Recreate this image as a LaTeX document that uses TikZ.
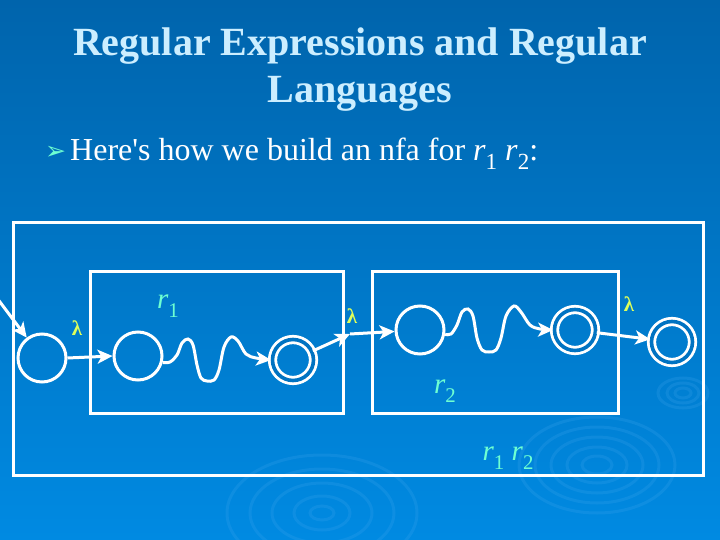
\documentclass[tikz,border=0pt]{standalone}
\usepackage{fontspec}
\setmainfont{Liberation Serif}
\newfontfamily\dingfont{DejaVu Sans}
\usepackage{graphicx}
\usetikzlibrary{positioning,shapes,arrows.meta,calc}
\definecolor{slidetop}{RGB}{0,100,172}
\definecolor{slidebot}{RGB}{0,138,226}
\definecolor{titleblue}{RGB}{204,238,255}
\definecolor{aqua}{RGB}{110,255,210}
\definecolor{lamyellow}{RGB}{222,255,90}
\definecolor{ripple}{RGB}{70,170,240}
\newcommand{\rsym}[2]{\textit{r}\raisebox{-#2}{\scalebox{0.72}{#1}}}
\tikzstyle{state} = [circle, draw=white, line width=3pt, minimum size=48pt, inner sep=0pt]
\tikzstyle{accept} = [circle, draw=white, line width=2.8pt, double=slidetop!60!slidebot, %
   double distance=3.6pt, minimum size=41pt, inner sep=0pt]
\tikzstyle{box} = [rectangle, draw=white, line width=3pt, inner sep=0pt]
\tikzstyle{edge} = [draw=white, line width=3pt, -{Stealth[length=15pt,width=14pt,inset=4pt]}]
\tikzstyle{lam} = [text=lamyellow, font=\bfseries\fontsize{21}{24}\selectfont, inner sep=0pt]
\tikzstyle{rlabel} = [text=aqua, font=\fontsize{29}{32}\selectfont, inner sep=0pt]
\tikzstyle{title} = [text=titleblue, font=\bfseries\fontsize{40}{47}\selectfont, inner sep=0pt, anchor=base]
\tikzstyle{ripples} = [draw=ripple, line width=3pt, opacity=0.2]

\begin{document}
\begin{tikzpicture}[x=1pt, y=-1pt]
   \useasboundingbox (0,0) rectangle (720,540);
   \fill[top color=slidetop, bottom color=slidebot] (0,0) rectangle (720,540);

   % Background ripples
   \foreach \rx/\ry in {78/48, 62/38, 46/28, 30/18, 15/9}
      \draw[ripples] (597,465) ellipse [x radius=\rx, y radius=\ry];
   \foreach \rx/\ry in {95/58, 72/44, 50/30, 28/17, 12/7}
      \draw[ripples] (322,513) ellipse [x radius=\rx, y radius=\ry];
   \foreach \rx/\ry in {25/15, 16/10, 8/5}
      \draw[ripples] (683,393) ellipse [x radius=\rx, y radius=\ry];

   % Title and bullet line
   \node[title] (title) at (360,56) {Regular Expressions and Regular};
   \node[title] (titleb) at (360,103) {Languages};
   \node[text=aqua, anchor=base west, inner sep=0pt, font=\dingfont\fontsize{25}{30}\selectfont] (bullet) at (45,160) {➢};
   \node[text=white, anchor=base west, inner sep=0pt, font=\fontsize{32}{38}\selectfont] (intro) at (70,161) {%
      Here\textquotesingle s how we build an nfa for \rsym{1}{0.28em} \rsym{2}{0.28em}:};

   % Boxes
   \node[box, minimum width=690pt, minimum height=252pt] (outer) at (358,349) {};
   \node[box, minimum width=253pt, minimum height=142pt] (boxA) at (216.5,342) {};
   \node[box, minimum width=246pt, minimum height=142pt] (boxB) at (495,342) {};

   % States
   \node[state] (q0) at (42,358) {};
   \node[state] (r1s) at (138,356) {};
   \node[accept] (r1f) at (293,360) {};
   \node[state] (r2s) at (420,330) {};
   \node[accept] (r2f) at (575,330) {};
   \node[accept] (fin) at (672,342) {};
   \coordinate (entry) at (-3,298);
   \coordinate (mid) at (350,334);

   % Labels
   \node[lam] (lamA) at (77,328) {λ};
   \node[lam] (lamB) at (352,316) {λ};
   \node[lam] (lamC) at (629,304) {λ};
   \node[rlabel] (rA) at (168,306) {\rsym{1}{0.3em}};
   \node[rlabel] (rB) at (445,391) {\rsym{2}{0.3em}};
   \node[rlabel] (rAB) at (508,458) {\rsym{1}{0.3em} \rsym{2}{0.3em}};

   % Draw edges
   \path[edge] (entry) -- (q0);
   \path[edge] (q0.east) -- (r1s.west);
   \path[edge] plot[smooth, tension=0.55] coordinates {(r1s.-15) (170,362) (177,355) (182,343)
      (188,339) (193,345) (197,365) (201,378) (207,381) (214,380) (219,370) (224,347) (231,337)
      (238,341) (246,354) (256,358) (r1f.west)};
   \path[edge] (r1f) -- (mid);
   \path[edge] (mid) -- (r2s);
   \path[edge] plot[smooth, tension=0.55] coordinates {(r2s.-10) (451,334) (457,325) (462,312)
      (468,309) (473,316) (477,338) (482,350) (489,352) (496,350) (501,338) (506,316) (514,306)
      (521,312) (530,325) (540,329) (r2f.west)};
   \path[edge] (r2f) -- (fin);
\end{tikzpicture}
\end{document}
